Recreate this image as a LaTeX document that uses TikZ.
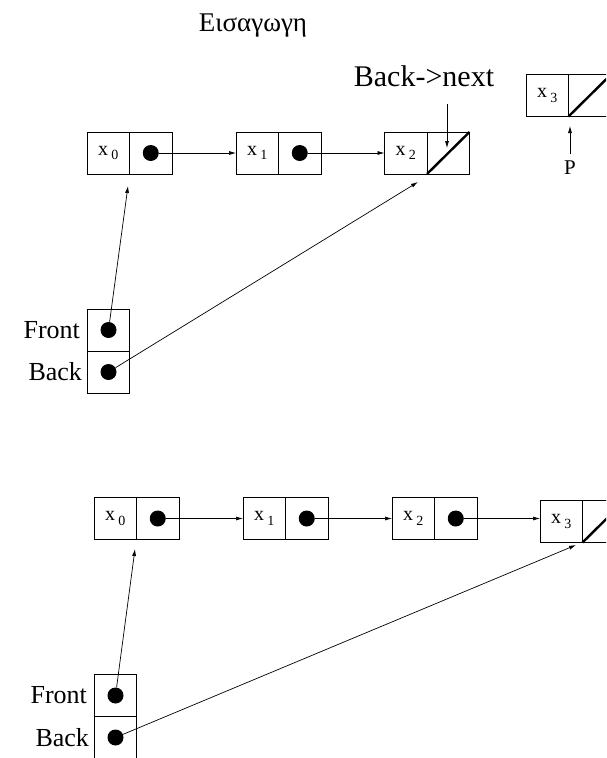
\documentclass[tikz,border=0pt]{standalone}
\usepackage{fontspec}
\setmainfont{Liberation Serif}
\usetikzlibrary{positioning,arrows.meta}
\newcommand{\xsub}[1]{x\,\raisebox{-4.5pt}{\fontsize{14}{14}\selectfont #1}}

\begin{document}
\begin{tikzpicture}[
        x = 1pt, y = -1pt,
        semithick % line style
    ]
    \tikzstyle{cell}=[
        draw = black,
        line width = 0.9pt,
        minimum width = 42.5pt,
        minimum height = 42pt,
        inner sep = 0pt,
        outer sep = 0pt,
        font = \fontsize{20}{20}\selectfont
    ]

    \tikzstyle{dot}=[
        circle,
        fill = black,
        minimum size = 16pt,
        inner sep = 0pt
    ]

    \tikzstyle{ptr}=[-{Latex[length=7pt, width=4pt]}, line width = 0.7pt]
    \tikzstyle{nil}=[line width = 2.4pt]
    \tikzstyle{side label}=[font = \fontsize{26}{26}\selectfont, inner sep = 2pt]

    \clip (0,0) rectangle (606,758);

    \node[font = \fontsize{27}{27}\selectfont] (title) at (253,26) {Εισαγωγη};

    % before the insertion
	\node[cell] (a0k) at (108.25,153) {\xsub{0}};
	\node[cell] (a0p) at (150.75,153) {};
	\node[cell] (a1k) at (257.25,153) {\xsub{1}};
	\node[cell] (a1p) at (299.75,153) {};
	\node[cell] (a2k) at (405.75,153) {\xsub{2}};
	\node[cell] (a2p) at (448.25,153) {};
	\node[cell] (a3k) at (547.25,95.5) {\xsub{3}};
	\node[cell] (a3p) at (589.75,95.5) {};

	\node[dot] (a0d) at (a0p) {};
	\node[dot] (a1d) at (a1p) {};

	\node[cell] (ff) at (108.5,330) {};
	\node[cell] (fb) at (108.5,372) {};
	\node[dot]  (ffd) at (ff) {};
	\node[dot]  (fbd) at (fb) {};
	\node[side label, left=5pt of ff] (ffl) {Front};
	\node[side label, left=3pt of fb] (fbl) {Back};

	\node[font = \fontsize{30}{30}\selectfont] (bn) at (424,76) {Back->next};
	\node[font = \fontsize{21}{21}\selectfont] (P) at (570,168) {P};
	\coordinate (bnt) at (447,148);
	\coordinate (pt)  at (570,126);
	\coordinate (a0in) at (128,186);
	\coordinate (a2in) at (418,182);

	\draw[nil] (a2p.south west) -- (a2p.north east);
	\draw[nil] (a3p.south west) -- (a3p.north east);

	\draw[ptr] (a0d) -- (a1k.west);
	\draw[ptr] (a1d) -- (a2k.west);
	\draw[ptr] (ffd) -- (a0in);
	\draw[ptr] (fbd) -- (a2in);
	\draw[ptr, shorten <= 14pt] (bn.south -| bnt) -- (bnt);
	\draw[ptr, shorten <= 3pt] (P.north) -- (pt);

    % after the insertion
	\node[cell] (b0k) at (115.25,518.5) {\xsub{0}};
	\node[cell] (b0p) at (157.75,518.5) {};
	\node[cell] (b1k) at (264.25,518.5) {\xsub{1}};
	\node[cell] (b1p) at (306.75,518.5) {};
	\node[cell] (b2k) at (413.25,518.5) {\xsub{2}};
	\node[cell] (b2p) at (455.75,518.5) {};
	\node[cell] (b3k) at (561.25,521.5) {\xsub{3}};
	\node[cell] (b3p) at (603.75,521.5) {};

	\node[dot] (b0d) at (b0p) {};
	\node[dot] (b1d) at (b1p) {};
	\node[dot] (b2d) at (b2p) {};

	\node[cell] (gf) at (115.5,695.5) {};
	\node[cell] (gb) at (115.5,737.5) {};
	\node[dot]  (gfd) at (gf) {};
	\node[dot]  (gbd) at (gb) {};
	\node[side label, left=5pt of gf] (gfl) {Front};
	\node[side label, left=3pt of gb] (gbl) {Back};

	\coordinate (b0in) at (135,549);
	\coordinate (b3in) at (576,545);

	\draw[nil] (b3p.south west) -- (b3p.north east);

	\draw[ptr] (b0d) -- (b1k.west);
	\draw[ptr] (b1d) -- (b2k.west);
	\draw[ptr] (b2d) -- (b2d -| b3k.west);
	\draw[ptr] (gfd) -- (b0in);
	\draw[ptr] (gbd) -- (b3in);

\end{tikzpicture}
\end{document}
